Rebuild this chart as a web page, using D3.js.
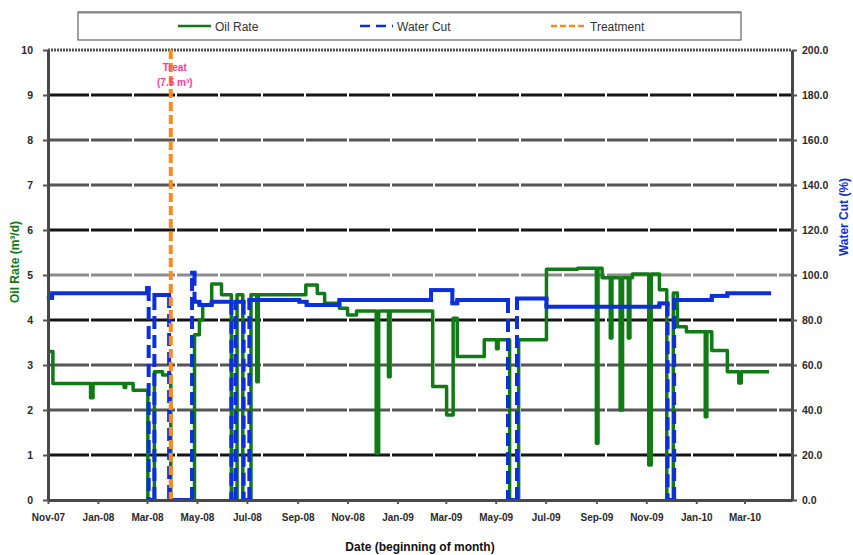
<!DOCTYPE html>
<html><head><meta charset="utf-8">
<script src="https://cdn.jsdelivr.net/npm/d3@7"></script>
<style>
body{margin:0;background:#fff;}
svg text{font-family:"Liberation Sans",Arial,sans-serif;}
</style>
</head><body>
<svg id="chart" width="853" height="555"></svg>
<script>
// ---------- DATA ----------
const oilDates = ["2007-11-03","2007-11-07","2007-12-23","2007-12-26","2008-02-02","2008-02-04","2008-02-13",
  "2008-03-02","2008-03-10","2008-03-20","2008-03-30","2008-04-28","2008-05-04","2008-05-08","2008-05-19",
  "2008-05-31","2008-06-12","2008-06-19","2008-06-26","2008-07-06","2008-07-13","2008-07-15","2008-09-11",
  "2008-09-25","2008-10-04","2008-10-22","2008-11-01","2008-11-12","2008-12-06","2008-12-09","2008-12-21",
  "2008-12-23","2009-02-13","2009-03-02","2009-03-10","2009-03-15","2009-04-17","2009-05-02","2009-05-04",
  "2009-05-18","2009-05-29","2009-07-02","2009-08-09","2009-09-01","2009-09-03","2009-09-08","2009-09-18",
  "2009-09-20","2009-09-30","2009-10-03","2009-10-10","2009-10-12","2009-10-15","2009-11-04","2009-11-07",
  "2009-11-17","2009-11-26","2009-12-04","2009-12-09","2009-12-20","2010-01-12","2010-01-14","2010-01-20",
  "2010-02-08","2010-02-22","2010-02-25","2010-03-31"];
const oilRate = [3.3,2.59,2.27,2.59,2.5,2.59,2.44,
  0,2.85,2.78,0,3.67,4.0,4.33,4.8,
  4.56,0,4.56,0,4.56,2.63,4.56,4.78,
  4.59,4.37,4.26,4.11,4.2,1.04,4.2,2.74,
  4.2,2.52,1.89,4.04,3.19,3.56,3.36,3.56,
  0,3.56,5.13,5.15,1.26,5.15,4.94,3.6,
  4.94,2.0,4.94,3.6,4.94,5.02,0.78,5.02,
  4.67,0,4.6,3.85,3.74,1.85,3.74,3.32,
  2.85,2.6,2.85,2.85];

const wcDates = ["2007-11-02","2007-11-06","2008-03-01","2008-03-03","2008-03-10","2008-03-28","2008-04-25",
  "2008-04-28","2008-05-04","2008-05-19","2008-06-12","2008-06-17","2008-06-27","2008-07-04","2008-09-03",
  "2008-09-12","2008-10-22","2009-02-11","2009-03-09","2009-03-15","2009-05-16","2009-05-27","2009-07-02",
  "2009-11-17","2009-11-27","2009-12-05","2010-01-20","2010-02-08","2010-03-31"];
const waterCut = [89.8,91.9,94.2,0,91.1,0,101,
  88.1,86.7,88.1,0,88.1,0,88.9,88.1,
  86.7,88.9,93.3,87.4,88.9,0,89.6,85.9,
  87.4,0,88.9,90.7,91.9,91.9];

const treatmentDate = "2008-03-30";
const treatmentLabel = ["Treat", "(7.5 m³)"];
const leftTicks = [0,1,2,3,4,5,6,7,8,9,10];
const rightTicks = [0,20,40,60,80,100,120,140,160,180,200];
const xTickDates = ["2007-11-01","2008-01-01","2008-03-01","2008-05-01","2008-07-01","2008-09-01",
  "2008-11-01","2009-01-01","2009-03-01","2009-05-01","2009-07-01","2009-09-01","2009-11-01",
  "2010-01-01","2010-03-01"];
const legendItems = ["Oil Rate","Water Cut","Treatment"];

// ---------- SETUP ----------
const parse = d3.timeParse("%Y-%m-%d");
const svg = d3.select("#chart");
const L = 48, R = 792, T = 50, B = 500;

const x = d3.scaleTime().domain([parse("2007-11-01"), parse("2010-04-28")]).range([L, R]);
const yL = d3.scaleLinear().domain([0, 10]).range([B, T]);
const yR = d3.scaleLinear().domain([0, 200]).range([B, T]);

const GREEN = "#0f7a16", BLUE = "#0b2fd9", ORANGE = "#ff8a1c";

// gridlines
const gridColor = v => ({9:"#151515",6:"#151515",4:"#151515",1:"#151515",5:"#8c8c8c"}[v] || "#555");
svg.append("g").selectAll("line").data(leftTicks.filter(v => v > 0 && v < 10)).join("line")
  .attr("x1", L).attr("x2", R)
  .attr("y1", d => yL(d)).attr("y2", d => yL(d))
  .attr("stroke", d => gridColor(d)).attr("stroke-width", 3)
  .attr("stroke-dasharray", "41,2");
// top border
svg.append("line").attr("x1", L).attr("x2", R).attr("y1", yL(10)).attr("y2", yL(10))
  .attr("stroke", "#555").attr("stroke-width", 3).attr("stroke-dasharray", "2,1");

// ---------- SERIES ----------
const oil = oilDates.map((d, i) => ({date: parse(d), v: oilRate[i]}));
const wc = wcDates.map((d, i) => ({date: parse(d), v: waterCut[i]}));

svg.append("path").datum(oil)
  .attr("d", d3.line().x(d => x(d.date)).y(d => yL(d.v)).curve(d3.curveStepAfter))
  .attr("fill", "none").attr("stroke", GREEN).attr("stroke-width", 3.5).attr("stroke-linejoin", "round");

// water cut: horizontal runs solid, vertical jumps dashed (like the source rendering)
const hSegs = [], vSegs = [];
for (let i = 0; i < wc.length - 1; i++) {
  hSegs.push([[wc[i].date, wc[i].v], [wc[i + 1].date, wc[i].v]]);
  vSegs.push([[wc[i + 1].date, wc[i].v], [wc[i + 1].date, wc[i + 1].v]]);
}
const segLine = d3.line().x(d => x(d[0])).y(d => yR(d[1]));
svg.append("g").selectAll("path").data(vSegs).join("path")
  .attr("d", segLine).attr("fill", "none").attr("stroke", BLUE).attr("stroke-width", 4)
  .attr("stroke-dasharray", "13,6");
svg.append("g").selectAll("path").data(hSegs).join("path")
  .attr("d", segLine).attr("fill", "none").attr("stroke", BLUE).attr("stroke-width", 4)
  .attr("stroke-linecap", "square");

// treatment
const tx = x(parse(treatmentDate));
svg.append("line").attr("x1", tx).attr("x2", tx).attr("y1", T).attr("y2", B)
  .attr("stroke", ORANGE).attr("stroke-width", 4).attr("stroke-dasharray", "9,4");
svg.append("g").selectAll("text").data(treatmentLabel).join("text")
  .attr("x", tx + 4).attr("y", (d, i) => 71 + i * 15)
  .attr("text-anchor", "middle").attr("font-size", 10).attr("font-weight", "bold")
  .attr("fill", "#ff3a9a").text(d => d);

// ---------- AXES ----------
const axL = svg.append("g").attr("transform", `translate(${L},0)`)
  .call(d3.axisLeft(yL).tickValues(leftTicks).tickSize(5).tickSizeOuter(0).tickPadding(10).tickFormat(d3.format("d")));
const axR = svg.append("g").attr("transform", `translate(${R},0)`)
  .call(d3.axisRight(yR).tickValues(rightTicks).tickSize(5).tickSizeOuter(0).tickPadding(5).tickFormat(d3.format(".1f")));
const axB = svg.append("g").attr("transform", `translate(0,${B})`)
  .call(d3.axisBottom(x).tickValues(xTickDates.map(parse)).tickSize(4).tickSizeOuter(0).tickPadding(10)
    .tickFormat(d3.timeFormat("%b-%y")));
[axL, axR, axB].forEach(a => {
  a.select(".domain").attr("stroke", "#484848").attr("stroke-width", 3);
  a.selectAll(".tick line").attr("stroke", "#555").attr("stroke-width", 2);
  a.selectAll(".tick text").attr("font-size", 10.5).attr("font-weight", "bold").attr("fill", "#2a2a2a")
    .style("font-family", "'Liberation Sans',Arial,sans-serif");
});
axB.selectAll(".tick text").attr("font-size", 10);

// axis titles
svg.append("text").attr("transform", "translate(19,262) rotate(-90)")
  .attr("text-anchor", "middle").attr("font-size", 12).attr("font-weight", "bold").attr("fill", GREEN)
  .text("Oil Rate (m³/d)");
svg.append("text").attr("transform", "translate(848,217) rotate(-90)")
  .attr("text-anchor", "middle").attr("font-size", 12).attr("font-weight", "bold").attr("fill", BLUE)
  .text("Water Cut (%)");
svg.append("text").attr("x", 420).attr("y", 551)
  .attr("text-anchor", "middle").attr("font-size", 12).attr("font-weight", "bold").attr("fill", "#111")
  .text("Date (beginning of month)");

// ---------- LEGEND ----------
const lg = svg.append("g");
lg.append("rect").attr("x", 78).attr("y", 12).attr("width", 663).attr("height", 28)
  .attr("fill", "#fff").attr("stroke", "#444").attr("stroke-width", 1);
lg.append("line").attr("x1", 78).attr("x2", 741).attr("y1", 12.5).attr("y2", 12.5)
  .attr("stroke", "#888").attr("stroke-width", 2);
const legendX = [178, 360, 551];
const legendStyle = [
  {c: GREEN, w: 2.5, dash: null},
  {c: BLUE, w: 2.5, dash: "10,6"},
  {c: ORANGE, w: 2.5, dash: "6,3"}
];
legendItems.forEach((name, i) => {
  lg.append("line").attr("x1", legendX[i]).attr("x2", legendX[i] + 33).attr("y1", 26).attr("y2", 26)
    .attr("stroke", legendStyle[i].c).attr("stroke-width", legendStyle[i].w)
    .attr("stroke-dasharray", legendStyle[i].dash);
  lg.append("text").attr("x", legendX[i] + (i === 2 ? 39 : 37)).attr("y", 30.5)
    .attr("font-size", 12).attr("fill", "#333").text(name);
});
</script>
</body></html>
